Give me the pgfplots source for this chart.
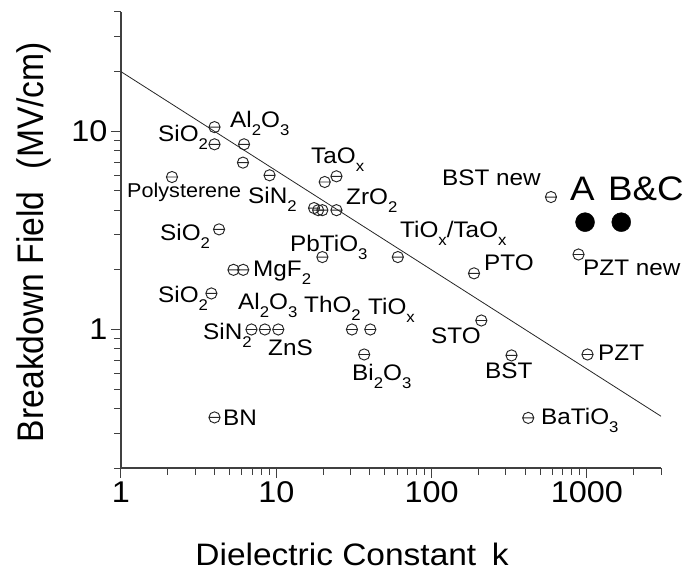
\documentclass[border=0pt]{standalone}
\usepackage{fontspec}
\setmainfont{Liberation Sans}[FakeStretch=1.08]
\newfontfamily\ylabfont{Liberation Sans}[FakeStretch=0.91]
\usepackage{pgfplots}
\pgfplotsset{compat=1.18}
\pgfdeclareplotmark{ominus}{%
  \pgfpathcircle{\pgfpointorigin}{\pgfplotmarksize}%
  \pgfpathmoveto{\pgfqpoint{-\pgfplotmarksize}{0pt}}%
  \pgfpathlineto{\pgfqpoint{\pgfplotmarksize}{0pt}}%
  \pgfusepathqstroke}
\newcommand\sub[1]{\raisebox{-8pt}{\fontsize{15.5}{15.5}\selectfont #1}}
\newcommand\lab[3]{\node[anchor=base west,inner sep=0pt,font=\fontsize{22.5}{22.5}\selectfont] at ({(#1-121)*1pt},{(468-#2)*1pt}) {#3};}
\begin{document}
\begin{tikzpicture}
\begin{axis}[name=ax, at={(0,0)}, anchor=south west,
  scale only axis, width=540pt, height=456pt,
  xmode=log, ymode=log, xmin=1, xmax=3000, ymin=0.2, ymax=40,
  axis x line=bottom, axis y line=left,
  axis line style={-, line width=1.1pt, black!75},
  x axis line style={-}, y axis line style={-},
  tick style={line width=1pt, black!75}, tick align=outside,
  major tick length=10pt, minor tick length=7pt,
  xtick={1,10,100,1000}, xticklabels={1,10,100,1000},
  minor xtick={2,3,4,5,6,7,8,9,20,30,40,50,60,70,80,90,200,300,400,500,600,700,800,900,2000,3000},
  ytick={1,10}, yticklabels={1,10},
  minor ytick={0.2,0.3,0.4,0.5,0.6,0.7,0.8,0.9,2,3,4,5,6,7,8,9,20,30,40},
  /pgf/number format/assume math mode=true,
  xticklabel style={font=\fontsize{30}{30}\selectfont},
  yticklabel style={font=\fontsize{30}{30}\selectfont},
]
\addplot[only marks, mark=ominus, mark size=5.6pt, mark options={line width=0.95pt, black!85}] coordinates {
(2.13,5.88) (4.0,10.5) (4.0,8.6) (4.28,3.2) (3.82,1.52) (4.0,0.36)
(6.2,8.6) (6.1,6.95) (9.05,6.0) (5.3,2.0) (6.12,2.0)
(6.92,1.0) (8.44,1.0) (10.3,1.0)
(17.5,4.1) (18.6,4.0) (19.8,4.0) (24.4,4.0) (20.5,5.55) (24.4,5.93)
(19.8,2.32) (60.6,2.32) (30.7,1.0) (40.3,1.0) (36.8,0.748)
(187.6,1.92) (209,1.11) (327,0.74) (419,0.358) (587,4.66) (883,2.39) (1009,0.748)
};
\addplot[only marks, mark=*, mark size=9.5pt, black] coordinates {(973,3.48) (1664,3.48)};
\addplot[no marks, line width=0.8pt, black!85] coordinates {(1,20) (3000,0.365)};
\end{axis}
\begin{scope}[shift={(ax.south west)}]
\lab{158}{142}{SiO\sub{2}}
\lab{230}{128}{Al\sub{2}O\sub{3}}
\node[anchor=base west,inner sep=0pt,font=\fontsize{20}{20}\selectfont] at ({(127-121)*1pt},{(468-197)*1pt}) {Polysterene};
\lab{248}{203}{SiN\sub{2}}
\lab{311}{163}{TaO\sub{x}}
\lab{346}{204}{ZrO\sub{2}}
\lab{160}{240}{SiO\sub{2}}
\lab{400}{237}{TiO\sub{x}/TaO\sub{x}}
\lab{290}{251}{PbTiO\sub{3}}
\lab{253}{276}{MgF\sub{2}}
\lab{442}{185}{BST new}
\lab{484}{270}{PTO}
\lab{583}{275}{PZT new}
\lab{158}{302}{SiO\sub{2}}
\lab{238}{309}{Al\sub{2}O\sub{3}}
\lab{304}{312}{ThO\sub{2}}
\lab{368}{314}{TiO\sub{x}}
\lab{203}{339}{SiN\sub{2}}
\lab{268}{355}{ZnS}
\lab{431}{343}{STO}
\lab{352}{380}{Bi\sub{2}O\sub{3}}
\lab{485}{378}{BST}
\lab{598}{360}{PZT}
\lab{223}{425}{BN}
\lab{541}{424}{BaTiO\sub{3}}
\node[anchor=base west,inner sep=0pt,font=\fontsize{34}{34}\selectfont] at ({(570-121)*1pt},{(468-200)*1pt}) {A};
\node[anchor=base west,inner sep=0pt,font=\fontsize{34}{34}\selectfont] at ({(608-121)*1pt},{(468-200)*1pt}) {B\&C};
\node[anchor=base,inner sep=0pt,font=\fontsize{31}{31}\selectfont] at ({(352-121)*1pt},{(468-565)*1pt}) {Dielectric Constant\hspace{0.5em}k};
\node[rotate=90,anchor=base,inner sep=0pt,font=\ylabfont\fontsize{37}{37}\selectfont] at ({(44-121)*1pt},{(468-242)*1pt}) {Breakdown Field\hspace{0.6em}(MV/cm)};
\pgfresetboundingbox
\useasboundingbox (-121pt,-103pt) rectangle (564pt,468pt);
\end{scope}
\end{tikzpicture}
\end{document}
